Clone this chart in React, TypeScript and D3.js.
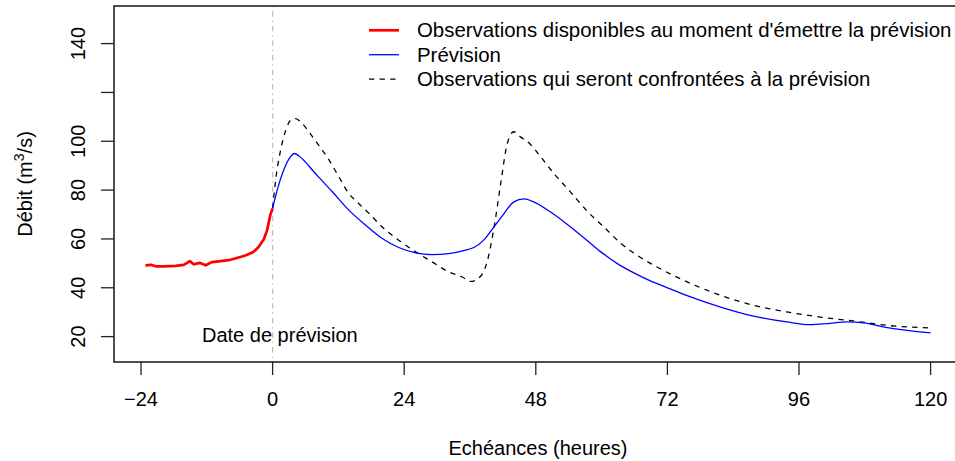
import React from 'react';
import * as d3 from 'd3';

// observations disponibles (heures avant la prévision)
const obsHours = [-23.2, -22.2, -21.3, -19.9, -17.7, -16.2, -15.1, -14.4, -13.3, -12.2, -11.1, -9.5, -8.0, -6.7, -5.1, -3.6, -2.6, -1.6, -1.0, -0.4, 0];
const obsValues = [49.2, 49.4, 48.8, 48.8, 49.0, 49.4, 50.9, 49.6, 50.2, 49.2, 50.5, 50.9, 51.3, 52.1, 53.1, 54.5, 56.6, 59.9, 63.6, 70.0, 72.5];

// prévision
const fcstHours = [0, 0.9, 1.9, 3.0, 4.0, 4.8, 7.8, 10.9, 13.9, 17.0, 20.0, 23.0, 26.1, 29.1, 32.1, 35.2, 36.7, 38.5, 40.3, 42.2, 44.0, 45.8, 47.6, 50.7, 53.7, 56.7, 59.8, 62.8, 65.8, 68.9, 72.0, 75.6, 81.7, 87.7, 93.8, 98.1, 101.1, 104.7, 107.8, 112.1, 120];
const fcstValues = [72.5, 80.5, 87.5, 92.8, 95.0, 94.0, 86.8, 79.3, 71.8, 65.6, 60.2, 56.5, 54.3, 53.6, 54.0, 55.4, 56.5, 59.5, 64.7, 70.4, 75.2, 76.4, 75.2, 71.0, 66.0, 60.6, 54.8, 50.0, 46.2, 42.8, 40.0, 36.8, 32.1, 28.4, 26.0, 24.9, 25.3, 26.0, 25.6, 23.7, 21.5];

// observations futures (confrontées à la prévision)
const futHours = [0, 0.55, 1.46, 2.4, 3.3, 4.2, 5.1, 6.6, 8.4, 10.3, 12.1, 13.9, 15.4, 17.6, 20.0, 23.0, 26.1, 29.1, 32.1, 34.6, 36.1, 37.9, 39.1, 40.4, 41.6, 42.8, 44.0, 45.2, 47.0, 48.9, 51.3, 54.3, 57.4, 60.4, 63.4, 66.5, 70.1, 75.6, 81.7, 87.7, 93.8, 99.9, 105.9, 112.1, 120];
const futValues = [72.5, 84.1, 96.4, 104.5, 108.6, 109.3, 108.0, 103.9, 98.4, 92.3, 85.4, 78.6, 75.2, 70.4, 64.9, 59.5, 54.7, 50.6, 46.5, 44.4, 42.6, 44.6, 50.5, 64.9, 82.7, 99.1, 103.9, 101.8, 98.8, 93.6, 86.8, 79.3, 71.3, 64.9, 58.4, 53.3, 48.5, 42.4, 36.9, 32.8, 30.1, 28.0, 26.4, 24.6, 23.5];

const xTicks = [-24, 0, 24, 48, 72, 96, 120];
const yTicks = [20, 40, 60, 80, 100, 120, 140];
const yLabelled = [20, 40, 60, 80, 100, 140];
const yLim = [15, 150];

const legendItems = [
  { label: "Observations disponibles au moment d'émettre la prévision", color: '#ff0000', width: 2.7, dash: null },
  { label: 'Prévision', color: '#0000ff', width: 1.3, dash: null },
  { label: 'Observations qui seront confrontées à la prévision', color: '#000000', width: 1.3, dash: '5.3,5.3' },
];

const W = 955;
const H = 461;
const FONT = '"Liberation Sans", Arial, Helvetica, sans-serif';

export default function App() {
  const left = 114, right = 962, top = 6, bottom = 362;

  const xs = d3.extent([...obsHours, ...fcstHours, ...futHours]) as [number, number];
  const xPad = 0.04 * (xs[1] - xs[0]);
  const x = d3.scaleLinear().domain([xs[0] - xPad, xs[1] + xPad]).range([left, right]);
  const yPad = 0.04 * (yLim[1] - yLim[0]);
  const y = d3.scaleLinear().domain([yLim[0] - yPad, yLim[1] + yPad]).range([bottom, top]);

  const mk = (hours: number[], vals: number[], curve: d3.CurveFactory) =>
    d3.line<number>()
      .x((_, i) => x(hours[i]))
      .y((v) => y(v))
      .curve(curve)(vals) || '';

  const obsPath = mk(obsHours, obsValues, d3.curveLinear);
  const fcstPath = mk(fcstHours, fcstValues, d3.curveMonotoneX);
  const futPath = mk(futHours, futValues, d3.curveMonotoneX);

  return (
    <svg width={W} height={H} style={{ position: 'absolute', left: 0, top: 0, background: '#fff' }}
      fontFamily={FONT} fontSize={20}>
      <rect x={0} y={0} width={W} height={H} fill="#fff" />

      {/* date de prévision */}
      <line x1={x(0)} x2={x(0)} y1={top} y2={bottom} stroke="#bebebe" strokeWidth={1.3}
        strokeDasharray="1.3,4,5.3,4" />
      <text x={202} y={341.7} fill="#000">Date de prévision</text>

      {/* courbes */}
      <path d={futPath} fill="none" stroke="#000" strokeWidth={1.3} strokeDasharray="5.3,5.3" />
      <path d={fcstPath} fill="none" stroke="#0000ff" strokeWidth={1.3} />
      <path d={obsPath} fill="none" stroke="#ff0000" strokeWidth={2.7} strokeLinejoin="round" />

      {/* cadre */}
      <rect x={left} y={top} width={right - left} height={bottom - top} fill="none" stroke="#222" strokeWidth={1.6} />

      {/* axe x */}
      {xTicks.map((t) => (
        <g key={t}>
          <line x1={x(t)} x2={x(t)} y1={bottom} y2={bottom + 13} stroke="#222" strokeWidth={1.3} />
          <text x={x(t)} y={405.5} textAnchor="middle">{t < 0 ? '\u2212' + Math.abs(t) : t}</text>
        </g>
      ))}
      <text x={(left + right) / 2} y={455} textAnchor="middle">Echéances (heures)</text>

      {/* axe y */}
      {yTicks.map((t) => (
        <g key={t}>
          <line x1={left} x2={left - 13} y1={y(t)} y2={y(t)} stroke="#222" strokeWidth={1.3} />
          {yLabelled.includes(t) && (
            <text transform={`translate(85,${y(t)}) rotate(-90)`} textAnchor="middle">{t}</text>
          )}
        </g>
      ))}
      <text transform={`translate(31.5,${(top + bottom) / 2}) rotate(-90)`} textAnchor="middle">
        Débit (m<tspan fontSize={14} dy={-8}>3</tspan><tspan dy={8}>/s)</tspan>
      </text>

      {/* légende */}
      {legendItems.map((it, i) => {
        const ly = 30.3 + i * 24.4;
        return (
          <g key={it.label}>
            <line x1={369} x2={399} y1={ly} y2={ly} stroke={it.color} strokeWidth={it.width}
              strokeDasharray={it.dash || undefined} />
            <text x={417} y={ly + 7} fontSize={20.4}>{it.label}</text>
          </g>
        );
      })}
    </svg>
  );
}
